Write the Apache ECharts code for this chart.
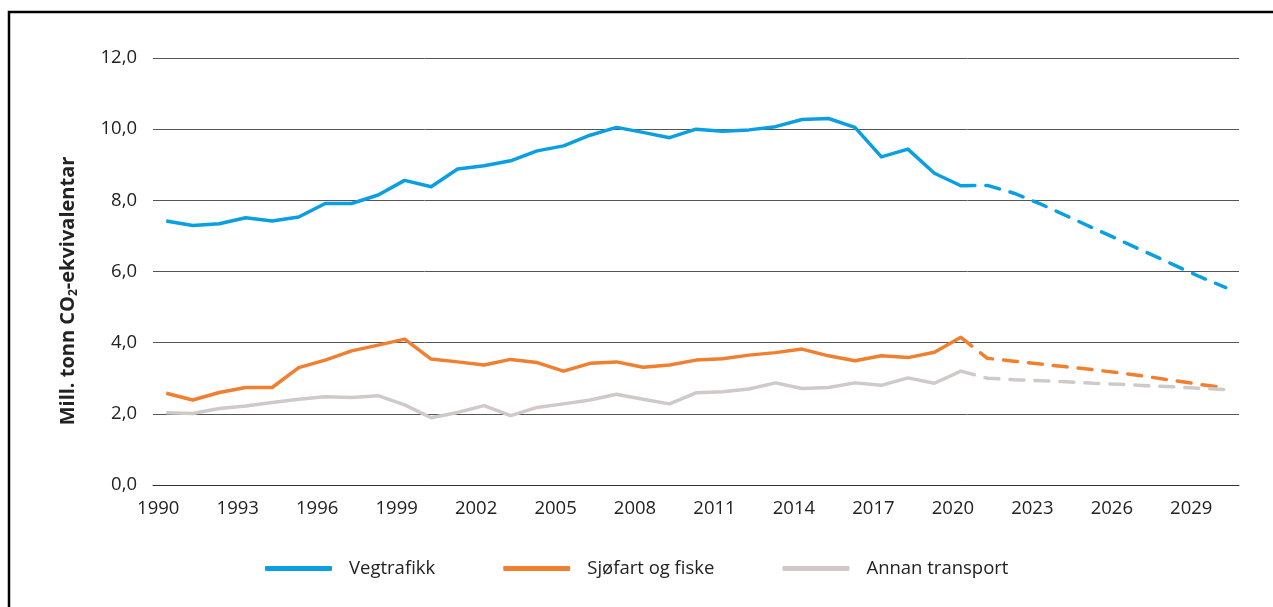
<!DOCTYPE html>
<html>
<head>
<meta charset="utf-8">
<script src="https://cdn.jsdelivr.net/npm/echarts@6/dist/echarts.min.js"></script>
<style>
  html, body { margin: 0; padding: 0; background: #fff; }
  #chart { width: 1273px; height: 607px; }
</style>
</head>
<body>
<div id="chart"></div>
<script>
// År 1990-2030
var years = [];
for (var y = 1990; y <= 2030; y++) years.push(String(y));

// Historiske utslipp 1990-2020
var vegHist = [7.42, 7.29, 7.34, 7.51, 7.42, 7.53, 7.91, 7.91, 8.15, 8.56,
  8.38, 8.88, 8.97, 9.11, 9.39, 9.53, 9.83, 10.05, 9.91, 9.76,
  10.0, 9.94, 9.98, 10.07, 10.27, 10.30, 10.05, 9.22, 9.44, 8.76, 8.41];
var sjoHist = [2.58, 2.39, 2.60, 2.74, 2.74, 3.30, 3.51, 3.77, 3.93, 4.10,
  3.54, 3.46, 3.37, 3.53, 3.44, 3.20, 3.42, 3.46, 3.31, 3.37,
  3.51, 3.55, 3.65, 3.72, 3.82, 3.63, 3.49, 3.63, 3.58, 3.73, 4.15];
var annanHist = [2.03, 2.01, 2.15, 2.22, 2.32, 2.41, 2.48, 2.46, 2.51, 2.25,
  1.89, 2.04, 2.23, 1.95, 2.18, 2.28, 2.39, 2.55, 2.41, 2.28,
  2.59, 2.62, 2.70, 2.87, 2.71, 2.74, 2.87, 2.80, 3.01, 2.86, 3.20];

// Framskriving 2020-2030
var vegProj = [8.41, 8.42, 8.2, 7.9, 7.56, 7.22, 6.88, 6.54, 6.2, 5.86, 5.55];
var sjoProj = [4.15, 3.56, 3.48, 3.40, 3.32, 3.24, 3.15, 3.05, 2.94, 2.83, 2.73];
var annanProj = [3.20, 3.00, 2.96, 2.93, 2.90, 2.86, 2.83, 2.79, 2.76, 2.72, 2.68];

var yTicks = [0, 2, 4, 6, 8, 10, 12];

function hist(arr) {
  var out = arr.slice();
  while (out.length < years.length) out.push(null);
  return out;
}
function proj(arr) {
  var out = [];
  while (out.length < years.length - arr.length) out.push(null);
  return out.concat(arr);
}

var blue = '#0a9fe0';
var orange = '#f07f2f';
var grey = '#cfcac8';

var chart = echarts.init(document.getElementById('chart'));

function solid(name, color, data) {
  return {
    name: name, type: 'line', data: hist(data), showSymbol: false, symbol: 'none',
    lineStyle: { color: color, width: 3.5, join: 'round' }, itemStyle: { color: color },
    animation: false
  };
}
function dashed(name, color, data) {
  return {
    name: name + ' proj', type: 'line', data: proj(data), showSymbol: false, symbol: 'none',
    lineStyle: { color: color, width: 3.5, type: [14, 11], cap: 'round' }, itemStyle: { color: color },
    animation: false
  };
}

chart.setOption({
  animation: false,
  textStyle: { fontFamily: 'Open Sans' },
  grid: { left: 153, right: 34, top: 58, bottom: 122 },
  legend: {
    data: ['Vegtrafikk', 'Sjøfart og fiske', 'Annan transport'],
    left: 260, top: 554,
    itemWidth: 67, itemHeight: 5, itemGap: 68,
    icon: 'roundRect',
    textStyle: { fontSize: 18.5, color: '#222', padding: [0, 0, 0, 12] }
  },
  xAxis: {
    type: 'category',
    data: years,
    boundaryGap: true,
    axisLine: { lineStyle: { color: '#333', width: 1 } },
    axisTick: { show: false },
    axisLabel: { interval: 2, fontSize: 18.5, color: '#222', margin: 14, padding: [0, 16, 0, 0] }
  },
  yAxis: {
    type: 'value',
    min: yTicks[0], max: yTicks[yTicks.length - 1], interval: 2,
    axisLine: { show: false },
    axisTick: { show: false },
    splitLine: { lineStyle: { color: '#555', width: 1 } },
    axisLabel: {
      fontSize: 18.5, color: '#222', margin: 16,
      formatter: function (v) { return v.toFixed(1).replace('.', ','); }
    }
  },
  graphic: [
    {
      type: 'polyline',
      shape: { points: [[9, 620], [9, 12], [1290, 12]] },
      style: { stroke: '#000', lineWidth: 2.5, fill: null }
    },
    {
      type: 'text',
      x: 68, y: 291, rotation: Math.PI / 2,
      style: {
        text: 'Mill. tonn CO{sub|2}-ekvivalentar',
        fontSize: 20, fontWeight: 'bold', fontFamily: 'Open Sans', fill: '#222',
        align: 'center', verticalAlign: 'middle',
        rich: { sub: { fontSize: 12, fontWeight: 'bold', fontFamily: 'Open Sans', fill: '#222', padding: [12, 0, 0, 0] } }
      }
    }
  ],
  series: [
    solid('Vegtrafikk', blue, vegHist),
    solid('Sjøfart og fiske', orange, sjoHist),
    solid('Annan transport', grey, annanHist),
    dashed('Vegtrafikk', blue, vegProj),
    dashed('Sjøfart og fiske', orange, sjoProj),
    dashed('Annan transport', grey, annanProj)
  ]
});
</script>
</body>
</html>
